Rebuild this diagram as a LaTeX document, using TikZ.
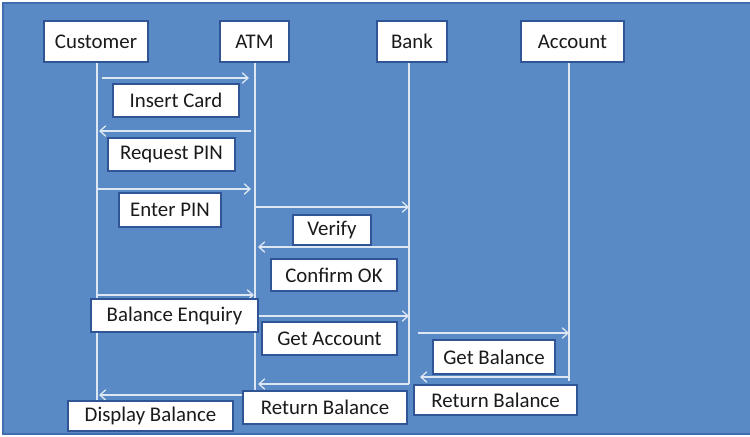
\documentclass[tikz,border=0pt]{standalone}
\usepackage{fontspec}
\setmainfont{Carlito}
\usetikzlibrary{arrows.meta}
\definecolor{Slide}{HTML}{5A8AC6}
\definecolor{SlideEdge}{HTML}{3F6DAE}
\definecolor{BoxEdge}{HTML}{2F5597}
\definecolor{Wire}{HTML}{DDE7F3}
\definecolor{Ink}{HTML}{1A1A1A}

\begin{document}
\begin{tikzpicture}[x=0.03cm,y=-0.03cm,
  box/.style={draw=BoxEdge,line width=1.8pt,fill=white,inner sep=0pt,
    font=\fontsize{17.8}{20}\selectfont,text=Ink},
  boxdim/.style 2 args={minimum width=#1*0.03cm,minimum height=#2*0.03cm},
  life/.style={draw=Wire,line width=1.1pt},
  msg/.style={life,-{Straight Barb[length=5pt,width=9pt]}}]
  \useasboundingbox (0,0) rectangle (750,436);
  \fill[white] (0,0) rectangle (750,436);
  \filldraw[fill=Slide,draw=SlideEdge,line width=1.2pt] (3,3) rectangle (753,434);

  % actors and lifelines
  \foreach \nm/\x/\w/\txt in {cus/96/104/Customer, atm/254.5/69/ATM,
      bank/412/70/Bank, acct/572.5/103/Account}
    \node[box,boxdim={\w}{41}] (\nm) at (\x,41.5) {\txt};
  \coordinate (cusE) at (97,400);
  \coordinate (atmE) at (255,393);
  \coordinate (bankE) at (409,384);
  \coordinate (acctE) at (569,381);
  \foreach \nm in {cus,atm,bank,acct}
    \draw[life] (\nm E |- \nm.south) -- (\nm E);

  % messages
  \foreach \n/\xa/\xb/\y in {1/102/249/78, 2/251/99/131, 3/97/251/189,
      4/255/409/207, 5/409/258/247, 6/97/254/295, 7/258/409/316,
      8/418/569/333, 9/570/420/377, 10/409/258/384, 11/255/99/395}{
    \coordinate (m\n a) at (\xa,\y);
    \coordinate (m\n b) at (\xb,\y);
    \draw[msg] (m\n a) -- (m\n b);
  }

  % labels
  \node[box,boxdim={126}{33}] (insert) at (176,100.5) {Insert Card};
  \node[box,boxdim={127}{33}] (reqpin) at (171.5,154.5) {Request PIN};
  \node[box,boxdim={102}{34}] (entpin) at (170,210) {Enter PIN};
  \node[box,boxdim={78}{30}] (verify) at (332,230) {Verify};
  \node[box,boxdim={126}{32}] (confirm) at (334,275) {Confirm OK};
  \node[box,boxdim={167}{33}] (enquiry) at (174.5,315.5) {Balance Enquiry};
  \node[box,boxdim={135}{33}] (getacct) at (329.5,338.5) {Get Account};
  \node[box,boxdim={122}{34}] (getbal) at (494,357) {Get Balance};
  \node[box,boxdim={163}{30}] (retbalA) at (495.5,400) {Return Balance};
  \node[box,boxdim={164}{33}] (retbalB) at (325,407.5) {Return Balance};
  \node[box,boxdim={165}{30}] (display) at (150.5,416) {Display Balance};
\end{tikzpicture}
\end{document}
